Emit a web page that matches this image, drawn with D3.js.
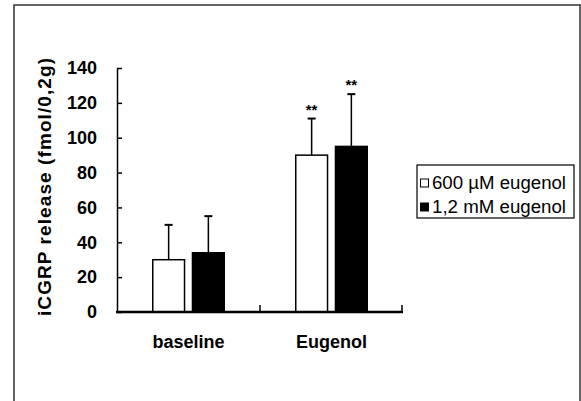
<!DOCTYPE html>
<html>
<head>
<meta charset="utf-8">
<script src="https://cdn.jsdelivr.net/npm/d3@7"></script>
<style>
  body { margin: 0; background: #fff; }
  svg { display: block; }
</style>
</head>
<body>
<div id="chart"></div>
<script>
// data
const categories = ['baseline', 'Eugenol']
const seriesNames = ['600 \u00b5M eugenol', '1,2 mM eugenol']
const lowDose = [30, 90]      // 600 uM
const highDose = [34, 95]     // 1.2 mM
const lowErr = [20, 21]
const highErr = [21, 30]
const marks = [['', ''], ['**', '**']]
const yTicks = [0, 20, 40, 60, 80, 100, 120, 140]

const W = 581, H = 401
const font = 'Liberation Sans, Arial, sans-serif'
const svg = d3.select('#chart').append('svg')
    .attr('width', W)
    .attr('height', H)

// outer frame (open at the bottom)
svg.append('rect')
    .attr('x', 14).attr('y', 5)
    .attr('width', 566).attr('height', 430)
    .attr('fill', 'none')
    .attr('stroke', '#333')
    .attr('stroke-width', 1.5)

const x0 = d3.scaleBand()
    .domain(categories)
    .range([117, 403])
    .paddingInner(0.5)
    .paddingOuter(0.25)

const x1 = d3.scaleBand()
    .domain([0, 1])
    .range([0, x0.bandwidth()])
    .paddingInner(0.2)

const y = d3.scaleLinear()
    .domain([0, 140])
    .range([312, 68])

// Y axis
const yAxis = svg.append('g')
    .attr('transform', 'translate(117,0)')
    .call(d3.axisLeft(y).tickValues(yTicks).tickSizeInner(-5).tickSizeOuter(0).tickPadding(20))
yAxis.selectAll('path, line').attr('stroke', '#000').attr('stroke-width', 1.5)
yAxis.selectAll('text')
    .attr('font-family', font)
    .attr('font-size', 18)
    .attr('font-weight', 'bold')
    .attr('fill', '#000')

// y title
svg.append('text')
    .attr('transform', 'translate(51,187) rotate(-90)')
    .attr('text-anchor', 'middle')
    .attr('font-family', font)
    .attr('font-size', 19)
    .attr('font-weight', 'bold')
    .attr('textLength', 258)
    .attr('lengthAdjust', 'spacing')
    .text('iCGRP release (fmol/0,2g)')

const groups = categories.map((c, i) => ({
    cat: c,
    bars: [
        { s: 0, v: lowDose[i], e: lowErr[i], m: marks[i][0] },
        { s: 1, v: highDose[i], e: highErr[i], m: marks[i][1] }
    ]
}))

const g = svg.selectAll('.grp')
    .data(groups)
    .enter().append('g')
    .attr('transform', d => 'translate(' + x0(d.cat) + ',0)')

// error bars (upper only)
g.selectAll('.err')
    .data(d => d.bars)
    .enter().append('line')
    .attr('x1', d => x1(d.s) + x1.bandwidth() / 2)
    .attr('x2', d => x1(d.s) + x1.bandwidth() / 2)
    .attr('y1', d => y(d.v))
    .attr('y2', d => y(d.v + d.e))
    .attr('stroke', '#000')
    .attr('stroke-width', 1.5)
g.selectAll('.cap')
    .data(d => d.bars)
    .enter().append('line')
    .attr('x1', d => x1(d.s) + x1.bandwidth() / 2 - 4)
    .attr('x2', d => x1(d.s) + x1.bandwidth() / 2 + 4)
    .attr('y1', d => y(d.v + d.e))
    .attr('y2', d => y(d.v + d.e))
    .attr('stroke', '#000')
    .attr('stroke-width', 2)

g.selectAll('.bar')
    .data(d => d.bars)
    .enter().append('rect')
    .attr('x', d => x1(d.s))
    .attr('y', d => y(d.v))
    .attr('width', x1.bandwidth())
    .attr('height', d => y(0) - y(d.v))
    .attr('fill', d => d.s === 0 ? '#fff' : '#000')
    .attr('stroke', '#000')
    .attr('stroke-width', 1.5)

g.selectAll('.mark')
    .data(d => d.bars)
    .enter().append('text')
    .attr('x', d => x1(d.s) + x1.bandwidth() / 2)
    .attr('y', d => y(d.v + d.e) - 4)
    .attr('text-anchor', 'middle')
    .attr('font-family', font)
    .attr('font-size', 15)
    .attr('font-weight', 'bold')
    .text(d => d.m)

// X axis line with category separator ticks
const xEnd = x0.range()[1]
svg.append('line')
    .attr('x1', 116).attr('x2', xEnd)
    .attr('y1', y(0)).attr('y2', y(0))
    .attr('stroke', '#000')
    .attr('stroke-width', 2.5)
const sepTicks = [x0('Eugenol') - (x0.step() - x0.bandwidth()) / 2, xEnd - 1]
svg.selectAll('.sep')
    .data(sepTicks)
    .enter().append('line')
    .attr('x1', d => d).attr('x2', d => d)
    .attr('y1', y(0)).attr('y2', y(0) - 7)
    .attr('stroke', '#000')
    .attr('stroke-width', 1.5)

svg.selectAll('.xlab')
    .data(categories)
    .enter().append('text')
    .attr('x', d => x0(d) + x0.bandwidth() / 2)
    .attr('y', 348)
    .attr('text-anchor', 'middle')
    .attr('font-family', font)
    .attr('font-size', 18)
    .attr('font-weight', 'bold')
    .text(d => d)

// legend
svg.append('rect')
    .attr('x', 417).attr('y', 165)
    .attr('width', 157).attr('height', 53)
    .attr('fill', 'none')
    .attr('stroke', '#000')
    .attr('stroke-width', 1.2)
const lg = svg.selectAll('.lg')
    .data(seriesNames)
    .enter().append('g')
    .attr('transform', (d, i) => 'translate(420,' + (183 + i * 24) + ')')
lg.append('rect')
    .attr('x', 0.5).attr('y', -4)
    .attr('width', 8).attr('height', 8)
    .attr('fill', (d, i) => i === 0 ? '#fff' : '#000')
    .attr('stroke', '#000')
    .attr('stroke-width', 1)
lg.append('text')
    .attr('x', 12)
    .attr('y', 6)
    .attr('font-family', font)
    .attr('font-size', 18)
    .attr('textLength', 134)
    .attr('lengthAdjust', 'spacingAndGlyphs')
    .text(d => d)
</script>
</body>
</html>
